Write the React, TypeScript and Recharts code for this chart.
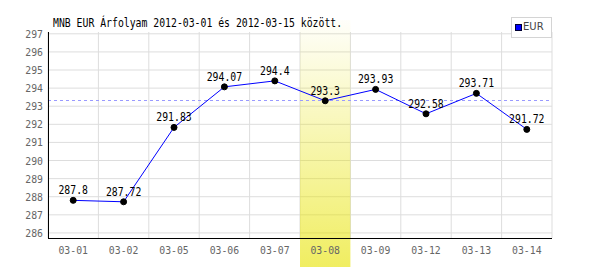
import * as React from "react";
import {
  LineChart,
  CartesianGrid,
  XAxis,
  YAxis,
  Line,
  LabelList,
  ReferenceArea,
  ReferenceLine
} from "recharts";

const title = "MNB EUR Árfolyam 2012-03-01 és 2012-03-15 között.";
const seriesName = "EUR";
const days = ["03-01", "03-02", "03-05", "03-06", "03-07", "03-08", "03-09", "03-12", "03-13", "03-14"];
const eur = [287.8, 287.72, 291.83, 294.07, 294.4, 293.3, 293.93, 292.58, 293.71, 291.72];
const yTicks = [286, 287, 288, 289, 290, 291, 292, 293, 294, 295, 296, 297];
const selectedDay = "03-08";
const selectedRate = 293.3;

const data = days.map((d, i) => ({ day: d, EUR: eur[i] }));

const MONO = "'DejaVu Sans Mono', monospace";
const CHAR_W = 5.9;

function XTick(props: any) {
  const { x, y, payload } = props;
  const s = String(payload.value);
  return (
    <text x={x} y={y + 14} textAnchor="middle" fill="#666" fontFamily={MONO} fontSize={11}
      textLength={s.length * CHAR_W} lengthAdjust="spacingAndGlyphs">{s}</text>
  );
}

function YTick(props: any) {
  const { x, y, payload } = props;
  const s = String(payload.value);
  return (
    <text x={x} y={y + 4} textAnchor="end" fill="#666" fontFamily={MONO} fontSize={11}
      textLength={s.length * CHAR_W} lengthAdjust="spacingAndGlyphs">{s}</text>
  );
}

function ValueLabel(props: any) {
  const { x, y, value } = props;
  const s = String(value);
  return (
    <text x={x} y={y - 6} textAnchor="middle" fill="#000" fontFamily={MONO} fontSize={12}
      textLength={s.length * CHAR_W} lengthAdjust="spacingAndGlyphs">{s}</text>
  );
}

// the highlighted day band runs past the plot, up under the title and down under the tick label
function Band(props: any) {
  const { x, y, width, height } = props;
  return <rect x={x} y={y - 12} width={width} height={height + 41} fill="url(#hl)" />;
}

export default function App() {
  return (
    <div style={{ position: "absolute", left: 0, top: 0, width: 600, height: 270, background: "#fff" }}>
      <LineChart width={600} height={270} data={data} margin={{ top: 32, right: 48, bottom: 0, left: 0 }}>
        <defs>
          {/* translucent so the grid under the band still shows */}
          <linearGradient id="hl" x1="0" y1="0" x2="0" y2="1">
            <stop offset="0%" stopColor="#e7e300" stopOpacity={0.02} />
            <stop offset="100%" stopColor="#e7e300" stopOpacity={0.62} />
          </linearGradient>
        </defs>
        <CartesianGrid
          stroke="#dddddd"
          syncWithTicks
          horizontal={{ shapeRendering: "crispEdges" } as any}
          vertical={{ shapeRendering: "crispEdges" } as any}
          verticalCoordinatesGenerator={({ offset }: any) =>
            Array.from({ length: days.length + 1 }, (_, i) => offset.left + (i * offset.width) / days.length)
          }
        />
        <ReferenceArea x1={selectedDay} x2={selectedDay} ifOverflow="visible" shape={<Band />} />
        <ReferenceLine y={selectedRate} stroke="#9a9aff" strokeDasharray="3 3" shapeRendering="crispEdges" />
        <XAxis dataKey="day" scale="band" interval={0} height={32} tickLine={false} tickSize={0}
          axisLine={{ stroke: "#000", shapeRendering: "crispEdges" }} tick={<XTick />} />
        <YAxis domain={[285.72, 297.1]} ticks={yTicks} interval={0} width={48} tickLine={false} tickSize={0}
          tickMargin={5} axisLine={{ stroke: "#000", shapeRendering: "crispEdges" }} tick={<YTick />} />
        <Line type="linear" dataKey="EUR" stroke="#0000ff" strokeWidth={1} isAnimationActive={false}
          dot={{ r: 3, fill: "#000", stroke: "#000", strokeWidth: 1 }} activeDot={false}>
          <LabelList dataKey="EUR" content={<ValueLabel />} />
        </Line>
      </LineChart>
      <svg width={600} height={270} style={{ position: "absolute", left: 0, top: 0, pointerEvents: "none" }}>
        <text x={53} y={27} fill="#000" fontFamily={MONO} fontSize={13}
          textLength={title.length * CHAR_W} lengthAdjust="spacingAndGlyphs">{title}</text>
      </svg>
      <div style={{ position: "absolute", left: 511, top: 17, width: 39, height: 19, border: "1px solid #d4d4d4", background: "#fff" }}>
        <div style={{ position: "absolute", left: 3, top: 6, width: 5, height: 5, background: "#0000ff", border: "1px solid #000033" }} />
        <span style={{ position: "absolute", left: 11, top: 3, fontFamily: "'DejaVu Sans', sans-serif", fontSize: 10, lineHeight: "12px", color: "#444" }}>{seriesName}</span>
      </div>
    </div>
  );
}
